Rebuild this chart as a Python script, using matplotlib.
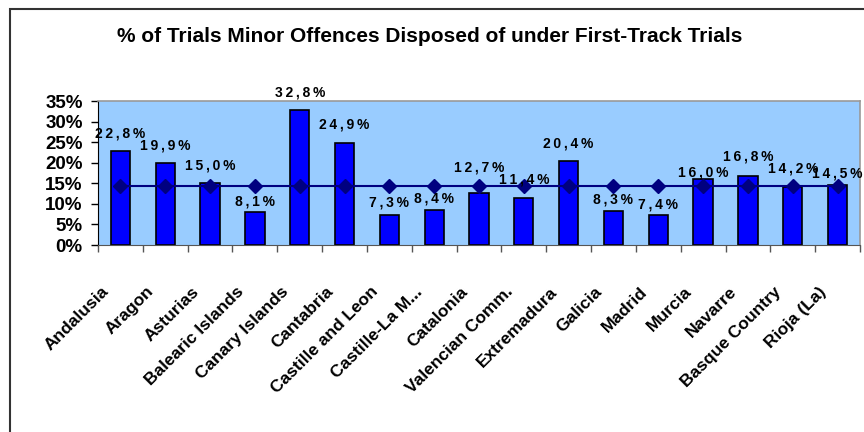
import numpy as np
import matplotlib
matplotlib.use('Agg')
import matplotlib.pyplot as plt
from matplotlib.patches import Rectangle
from matplotlib.ticker import FuncFormatter, FixedLocator
import matplotlib.transforms as mtransforms

regions = ['Andalusia', 'Aragon', 'Asturias', 'Balearic Islands', 'Canary Islands',
           'Cantabria', 'Castille and Leon', 'Castille-La M...', 'Catalonia',
           'Valencian Comm.', 'Extremadura', 'Galicia', 'Madrid', 'Murcia',
           'Navarre', 'Basque Country', 'Rioja (La)']
pct = [22.8, 19.9, 15.0, 8.1, 32.8, 24.9, 7.3, 8.4, 12.7, 11.4, 20.4, 8.3, 7.4,
       16.0, 16.8, 14.2, 14.5]
avg = [14.4] * len(regions)

# label gap above each bar, in pixels (as placed in the original chart)
label_gap = [18, 18, 18, 10, 18, 18, 12, 12, 25, 19, 18, 11, 10, 7, 19, 18, 12]

plt.rcParams['font.family'] = ['Liberation Sans', 'DejaVu Sans']

fig = plt.figure(figsize=(8.64, 4.32), dpi=100)
# plot area: x 98..860, y 101..245 (pixels)
ax = fig.add_axes([98 / 864, 1 - 245 / 432, 762 / 864, 144 / 432])

# outer chart frame (right and bottom edges fall outside the image)
fig.patches.append(Rectangle((10 / 864, -0.1), 1.0, 1 - 9 / 432 + 0.1,
                             transform=fig.transFigure, fill=False,
                             edgecolor='#333333', lw=1.5))

x = np.arange(len(regions))
ax.set_facecolor('#99CCFF')
ax.bar(x, pct, width=0.43, color='#0000FF', edgecolor='black', lw=1.2, zorder=2)
ax.plot(x, avg, color='#000080', lw=1.5, marker='D', markersize=7, zorder=3)

thin = '\u2009'
for xi, v, g in zip(x, pct, label_gap):
    txt = thin.join(f'{v:.1f}%'.replace('.', ','))
    ax.annotate(txt, (xi, v), xytext=(0, g * 0.72),
                textcoords='offset points', ha='center', va='center',
                fontsize=10, fontweight='bold', zorder=4, annotation_clip=False)

ax.set_xlim(-0.5, len(regions) - 0.5)
ax.set_ylim(0, 35)
ax.set_yticks(np.arange(0, 36, 5))
ax.yaxis.set_major_formatter(FuncFormatter(lambda v, p: f'{v:.0f}%'))
ax.tick_params(axis='y', labelsize=13.5, length=5, width=1, pad=6)
for t in ax.get_yticklabels():
    t.set_fontweight('bold')

ax.set_xticks(x)
ax.set_xticklabels(regions, rotation=45, ha='right', va='top',
                   rotation_mode='anchor', fontsize=12.5, fontweight='bold')
ax.tick_params(axis='x', length=0, pad=28)
shift = mtransforms.ScaledTranslation(-19 / 100, 0, fig.dpi_scale_trans)
for t in ax.get_xticklabels():
    t.set_transform(t.get_transform() + shift)
ax.xaxis.set_minor_locator(FixedLocator(np.arange(-0.5, len(regions), 1)))
ax.tick_params(axis='x', which='minor', length=5, width=1, color='#555555')

for s in ['top', 'right']:
    ax.spines[s].set_color('#999999')
    ax.spines[s].set_linewidth(1.2)
ax.spines['left'].set_color('black')
ax.spines['bottom'].set_color('#555555')

fig.text(430 / 864, 1 - 37 / 432,
         '% of Trials Minor Offences Disposed of under First-Track Trials',
         ha='center', va='center', fontsize=15, fontweight='bold')

fig.savefig('out.png', dpi=100)
